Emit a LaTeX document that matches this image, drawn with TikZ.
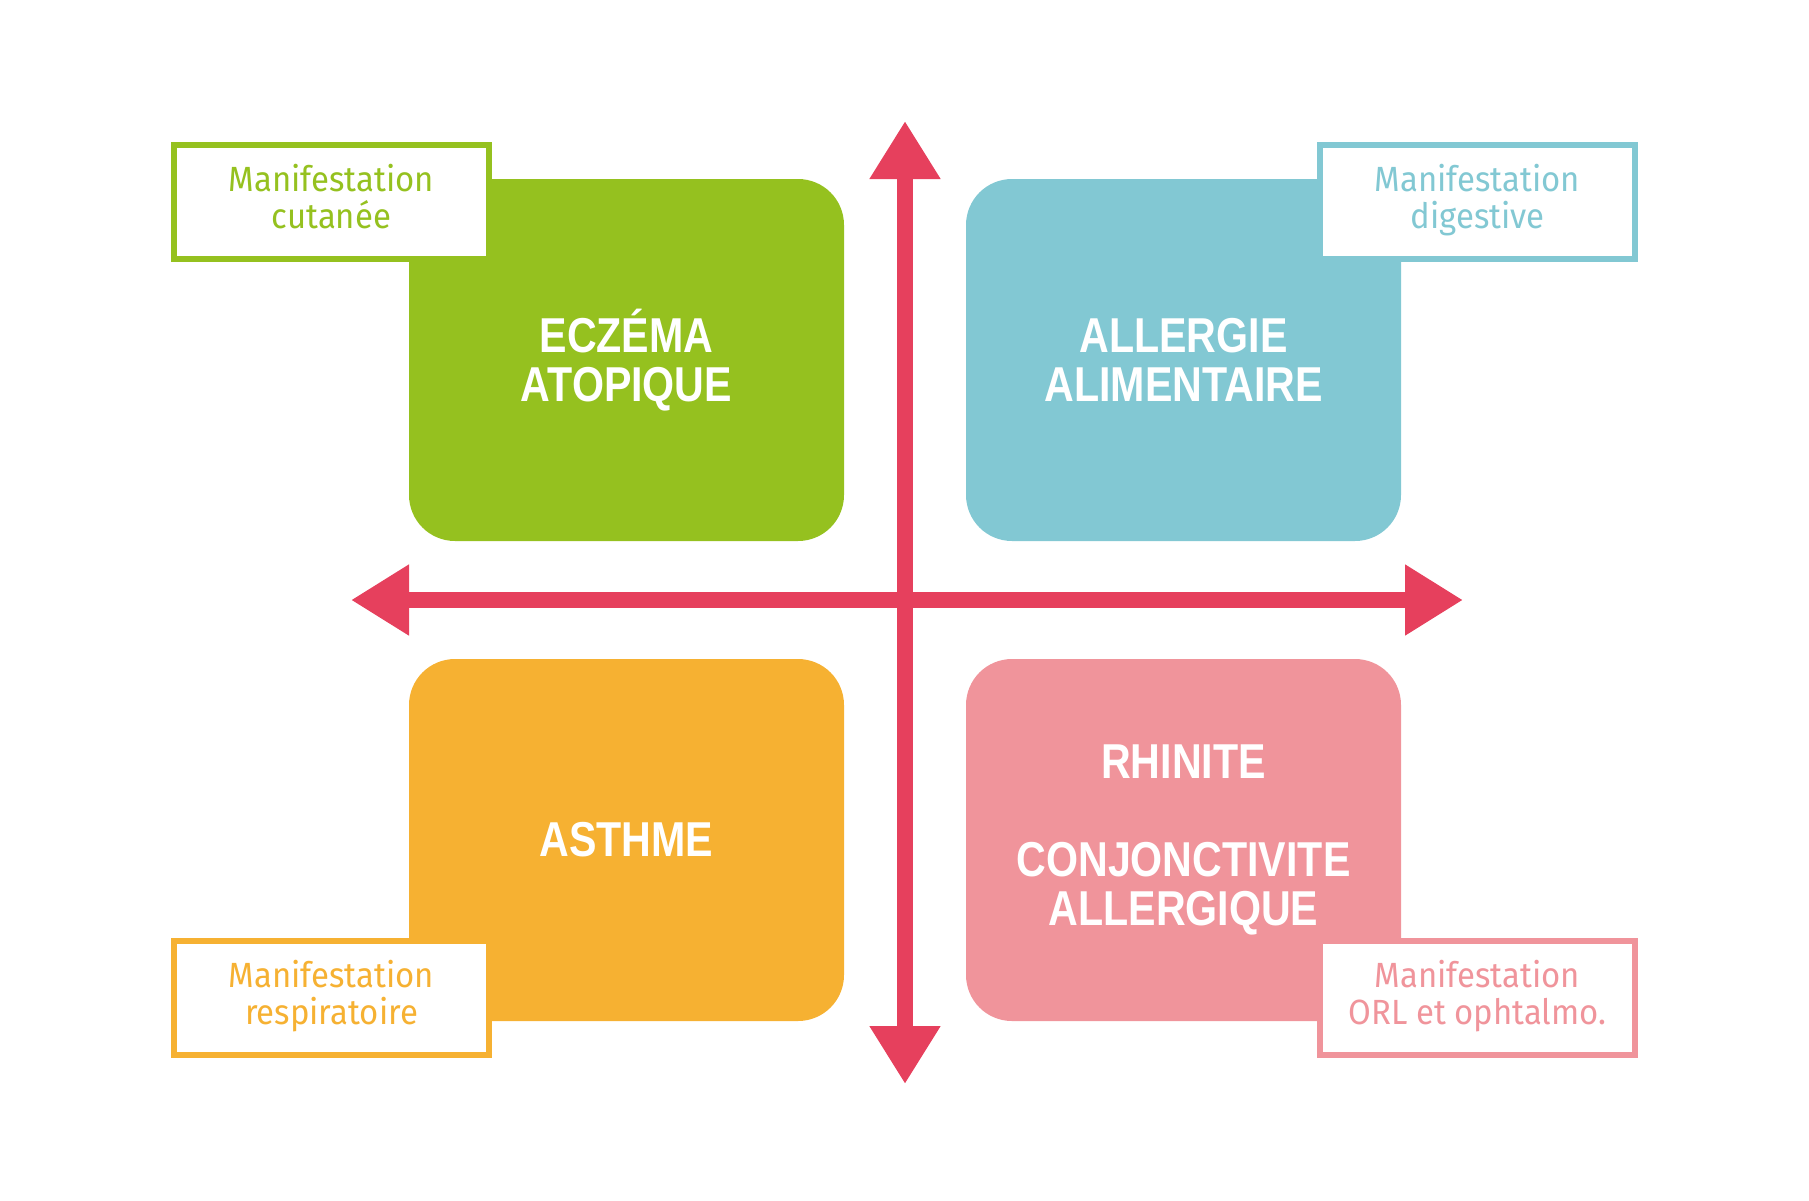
\documentclass[tikz,border=0pt]{standalone}
\usepackage{fontspec}
\usetikzlibrary{arrows.meta}
\newfontfamily\titlefont{Liberation Sans}[FakeStretch=0.84]
\newfontfamily\tagfont{Fira Sans}[FakeStretch=0.94]
\definecolor{skingreen}{HTML}{95C11F}
\definecolor{gutblue}{HTML}{82C8D3}
\definecolor{lungorange}{HTML}{F6B132}
\definecolor{nosepink}{HTML}{F0949B}
\definecolor{axisred}{HTML}{E6405D}
\begin{document}
\begin{tikzpicture}[x=1pt,y=-1pt,
    quadrant/.style={fill=#1, rounded corners=46pt, minimum width=435pt, minimum height=362pt,
      inner sep=0pt, text=white, align=center, font=\titlefont\bfseries\fontsize{49}{49}\selectfont},
    tag/.style={draw=#1, line width=6pt, fill=white, minimum width=315pt, minimum height=114pt,
      inner sep=0pt, text=#1, align=center, font=\tagfont\fontsize{35}{37}\selectfont,
      execute at begin node={\rule{0pt}{30pt}}, execute at end node=\strut},
    axis/.style={draw=axisred, line width=16pt,
      {Triangle[length=58pt,width=67pt]}-{Triangle[length=58pt,width=67pt]}}]

    \useasboundingbox (0,0) rectangle (1809,1200);

    % the four quadrants
    \node[quadrant=skingreen] (eczema) at (626.5,360) {ECZÉMA\\ATOPIQUE};
    \node[quadrant=gutblue] (allergie) at (1183.5,360) {ALLERGIE\\ALIMENTAIRE};
    \node[quadrant=lungorange] (asthme) at (626.5,840) {ASTHME};
    \node[quadrant=nosepink] (rhinite) at (1183.5,840) {RHINITE\\[49pt]CONJONCTIVITE\\ALLERGIQUE};

    % tags on the corners
    \node[tag=skingreen] (cutanee) at (331.5,202) {Manifestation\\cutanée};
    \node[tag=gutblue] (digestive) at (1477.5,202) {Manifestation\\digestive};
    \node[tag=lungorange] (respi) at (331.5,998) {Manifestation\\respiratoire};
    \node[tag=nosepink] (orl) at (1477.5,998) {Manifestation\\ORL et ophtalmo.};

    % axes
    \coordinate (top) at (905,121);
    \coordinate (bottom) at (905,1084);
    \coordinate (left) at (351,600);
    \coordinate (right) at (1463,600);

    \draw[axis] (bottom) -- (top);
    \draw[axis] (left) -- (right);

\end{tikzpicture}
\end{document}
